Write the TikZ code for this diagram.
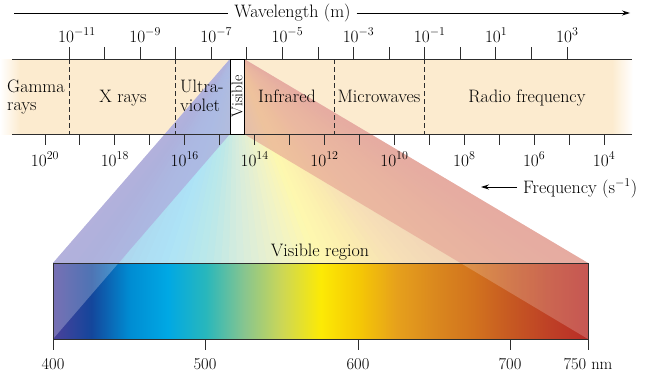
\documentclass[tikz,border=0pt]{standalone}
\usetikzlibrary{arrows.meta}
\definecolor{peach}{RGB}{252,235,207}
\definecolor{c0}{RGB}{75,65,155}
\definecolor{c1}{RGB}{20,70,155}
\definecolor{c2}{RGB}{0,140,210}
\definecolor{c3}{RGB}{0,168,228}
\definecolor{c4}{RGB}{40,183,188}
\definecolor{c5}{RGB}{135,197,143}
\definecolor{c6}{RGB}{205,215,85}
\definecolor{c7}{RGB}{252,234,5}
\definecolor{c8}{RGB}{245,200,5}
\definecolor{c9}{RGB}{230,160,28}
\definecolor{c10}{RGB}{218,136,30}
\definecolor{c11}{RGB}{210,115,30}
\definecolor{c12}{RGB}{198,88,34}
\definecolor{c13}{RGB}{190,64,38}
\definecolor{c14}{RGB}{185,45,40}
\definecolor{lavface}{RGB}{172,170,220}
\definecolor{salface}{RGB}{228,160,145}
\definecolor{inkline}{RGB}{45,45,45}
\pgfdeclarehorizontalshading{spectrum}{100bp}{color(0bp)=(c0); color(25bp)=(c0); color(28.5714bp)=(c1); color(32.1429bp)=(c2); color(35.7143bp)=(c3); color(39.2857bp)=(c4); color(42.8571bp)=(c5); color(46.4286bp)=(c6); color(50bp)=(c7); color(53.5714bp)=(c8); color(57.1429bp)=(c9); color(60.7143bp)=(c10); color(64.2857bp)=(c11); color(67.8571bp)=(c12); color(71.4286bp)=(c13); color(75bp)=(c14); color(100bp)=(c14)}
\begin{document}
\begin{tikzpicture}[x=1pt,y=-1pt,
  lbl/.style={inner sep=0pt, font=\fontsize{18}{21}\selectfont},
  numlbl/.style={inner sep=0pt, font=\fontsize{16.5}{19}\selectfont},
  bandline/.style={draw=inkline, line width=0.9pt},
  tickmark/.style={draw=inkline, line width=0.9pt},
  divider/.style={draw=inkline, line width=0.8pt, dash pattern=on 5pt off 3pt},
  arrowline/.style={draw=black, line width=0.8pt},
  tip/.style={-{Stealth[length=8pt,width=5pt]}}]
\useasboundingbox (0,0) rectangle (658,380);
% frustum corners
\coordinate (A) at (230,59);
\coordinate (B) at (244,59);
\coordinate (C) at (244,134);
\coordinate (D) at (230,134);
\coordinate (E) at (53,263);
\coordinate (F) at (588,263);
\coordinate (G) at (588,339);
\coordinate (H) at (53,339);
% band fill
\fill[peach] (19,59) rectangle (613,134);
\shade[left color=white, right color=peach] (0,59) rectangle (20,134);
\shade[left color=peach, right color=white] (612,59) rectangle (633,134);
% fan top face (strips)
\foreach \i in {0,...,69}{
  \pgfmathtruncatemacro\sx{floor(\i/5)}
  \pgfmathtruncatemacro\px{20*(\i-5*\sx)+10}
  \pgfmathtruncatemacro\nx{\sx+1}
  \pgfmathsetmacro\ta{\i/70}
  \pgfmathsetmacro\tb{min(1,(\i+1.2)/70)}
  \colorlet{cur}{c\nx!\px!c\sx}
  \fill[cur!32!white] (230+14*\ta,59) -- (230+14*\tb,59) -- (53+535*\tb,263) -- (53+535*\ta,263) -- cycle;
}
% side faces
\fill[lavface, fill opacity=0.7] (A) -- (D) -- (H) -- (E) -- cycle;
\fill[salface, fill opacity=0.6] (B) -- (C) -- (G) -- (F) -- cycle;
% spectrum rectangle
\shade[shading=spectrum] (E) rectangle (G);
\fill[white, fill opacity=0.25] (E) -- (118.6,263) -- (H) -- cycle;
\fill[white, fill opacity=0.2] (460.5,263) -- (F) -- (G) -- cycle;
\draw[draw=inkline, line width=0.7pt] (E) rectangle (G);
% band lines
\draw[bandline] (12,59) -- (632,59);
\draw[bandline] (12,134) -- (632,134);
% dividers
\foreach \x in {69,175,334,424} \draw[divider] (\x,59) -- (\x,134);
% top ticks
\foreach \k in {0,...,14} \draw[tickmark] ({69+35.57*\k},47) -- ({69+35.57*\k},59);
% bottom ticks
\foreach \k in {0,...,16} \draw[tickmark] ({45+34.94*\k},134) -- ({45+34.94*\k},145);
% visible slit
\node[rotate=90, draw=black, line width=0.9pt, fill=white, minimum width=75pt, minimum height=14pt, inner sep=0pt, font=\fontsize{15.5}{17}\selectfont] (vis) at (237,96.5) {Visible};
% top labels
\foreach \k/\e in {0/-11,2/-9,4/-7,6/-5,8/-3,10/-1,12/1,14/3}
  \node[numlbl, anchor=base west] (wt\k) at ({69+35.57*\k-11},42) {$10^{\e}$};
% bottom labels
\foreach \k/\e in {0/20,2/18,4/16,6/14,8/12,10/10,12/8,14/6,16/4}
  \node[numlbl, anchor=base] (ft\k) at ({45+34.94*\k},166) {$10^{\e}$};
% band labels
\node[lbl, anchor=base west] (gam1) at (7,92) {Gamma};
\node[lbl, anchor=base west] (gam2) at (7,110) {rays};
\node[lbl, anchor=base] (xr) at (123,102) {X rays};
\node[lbl, anchor=base west] (uv1) at (180,92) {Ultra-};
\node[lbl, anchor=base west] (uv2) at (180,111) {violet};
\node[lbl, anchor=base] (ir) at (287,102) {Infrared};
\node[lbl, anchor=base] (mw) at (379,102) {Microwaves};
\node[lbl, anchor=base] (rf) at (527,102) {Radio frequency};
% wavelength axis title
\node[lbl, anchor=base, inner xsep=6pt] (wl) at (292.5,17) {Wavelength (m)};
\coordinate (wl0) at (14,13);
\coordinate (wl1) at (630,13);
\draw[arrowline] (wl0) -- (wl0 -| wl.west);
\draw[arrowline, tip] (wl1 -| wl.east) -- (wl1);
% frequency title
\node[lbl, anchor=base west, inner xsep=6pt] (fq) at (517,193) {Frequency (s$^{-1}$)};
\coordinate (fa) at (481,187);
\draw[arrowline, tip] (fa -| fq.west) -- (fa);
% visible region
\node[lbl, anchor=base] (vr) at (320,256) {Visible region};
\foreach \x in {53,205,358,510,588} \draw[tickmark] (\x,339) -- (\x,350);
\node[numlbl, anchor=base] (n400) at (53,369) {400};
\node[numlbl, anchor=base] (n500) at (205,369) {500};
\node[numlbl, anchor=base] (n600) at (358,369) {600};
\node[numlbl, anchor=base] (n700) at (510,369) {700};
\node[lbl, anchor=base] (n750) at (588,369) {\fontsize{16.5}{19}\selectfont 750 nm};
\end{tikzpicture}
\end{document}
